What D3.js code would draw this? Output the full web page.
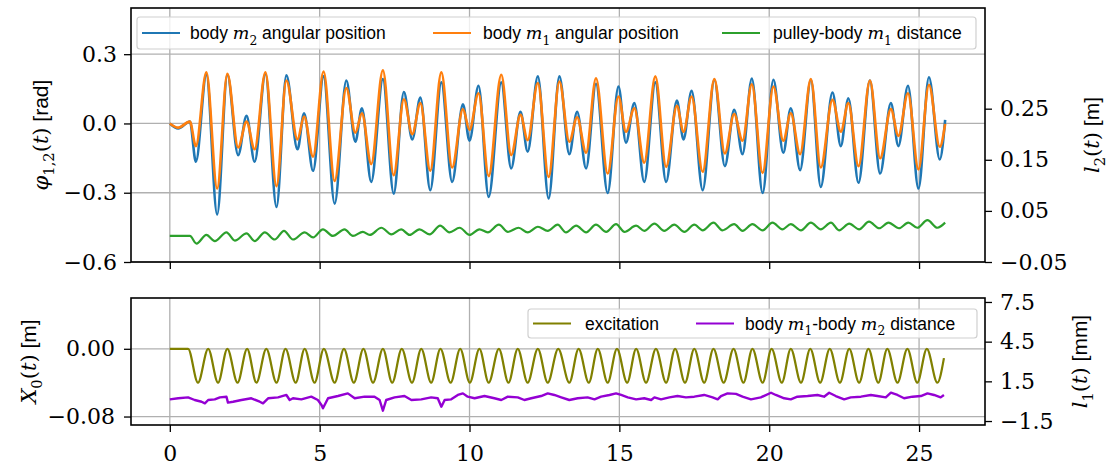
<!DOCTYPE html>
<meta charset="utf-8">
<style>
  body { margin: 0; background: #fff; }
  .tick text { font-family: "DejaVu Serif", serif; font-size: 22px; fill: #000; }
  .tick line { stroke: #000; stroke-width: 1.3; }
  .domain { display: none; }
  .grid line { stroke: #b0b0b0; stroke-width: 1.3; }
  .sf { font-family: "Liberation Sans", sans-serif; }
  .mi { font-family: "DejaVu Serif", serif; font-style: italic; }
  .rm { font-family: "DejaVu Serif", serif; }
</style>
<script src="https://d3js.org/d3.v7.min.js"></script>
<div id="chart"></div>
<script>
// ---- data (time in s) ----
// top panel: angular positions (extrema), left axis [rad]
const phiT = [0, 0.28, 0.67, 0.87, 1.22, 1.58, 1.92, 2.28, 2.56, 2.83, 3.19, 3.56, 3.89, 4.26, 4.48, 4.78, 5.13, 5.5, 5.89, 6.19,
  6.41, 6.72, 7.11, 7.47, 7.81, 8.09, 8.36, 8.69, 9.06, 9.42, 9.78, 10.0, 10.3, 10.64, 11.06, 11.39, 11.7, 11.94, 12.28, 12.64,
  13.0, 13.33, 13.59, 13.89, 14.22, 14.61, 14.97, 15.22, 15.5, 15.83, 16.2, 16.56, 16.92, 17.14, 17.41, 17.78, 18.17, 18.52, 18.83, 19.11,
  19.42, 19.78, 20.14, 20.47, 20.72, 21.03, 21.39, 21.72, 22.11, 22.39, 22.64, 22.98, 23.36, 23.7, 24.06, 24.31, 24.63, 24.98, 25.33, 25.69, 25.87]
const phi2 = [0, -0.022, 0.008, -0.166, 0.211, -0.394, 0.211, -0.137, 0.033, -0.166, 0.215, -0.362, 0.208, -0.112, 0.044, -0.205, 0.204, -0.347, 0.186, -0.079,
  0.066, -0.253, 0.192, -0.304, 0.136, -0.069, 0.112, -0.289, 0.178, -0.253, 0.083, -0.075, 0.163, -0.318, 0.178, -0.195, 0.051, -0.122, 0.204, -0.325,
  0.204, -0.133, 0.051, -0.195, 0.172, -0.301, 0.16, -0.083, 0.088, -0.253, 0.178, -0.253, 0.099, -0.069, 0.141, -0.289, 0.189, -0.185, 0.059, -0.133,
  0.194, -0.301, 0.189, -0.127, 0.066, -0.202, 0.189, -0.275, 0.134, -0.098, 0.109, -0.257, 0.186, -0.217, 0.088, -0.098, 0.163, -0.282, 0.2, -0.156, 0.015]
const phi1 = [0, -0.018, 0.008, -0.098, 0.221, -0.282, 0.215, -0.104, 0.008, -0.112, 0.221, -0.272, 0.186, -0.069, 0.03, -0.144, 0.225, -0.249, 0.153, -0.04,
  0.044, -0.176, 0.23, -0.224, 0.105, -0.046, 0.088, -0.205, 0.221, -0.191, 0.062, -0.028, 0.131, -0.228, 0.211, -0.137, 0.037, -0.072, 0.175, -0.232,
  0.182, -0.079, 0.027, -0.127, 0.196, -0.217, 0.117, -0.036, 0.066, -0.17, 0.204, -0.188, 0.076, -0.036, 0.117, -0.209, 0.192, -0.13, 0.041, -0.075,
  0.17, -0.214, 0.16, -0.075, 0.044, -0.133, 0.192, -0.191, 0.102, -0.036, 0.088, -0.185, 0.186, -0.151, 0.062, -0.054, 0.131, -0.199, 0.167, -0.101, -0.002]

// top panel: pulley-body m1 distance, right axis [m]
const l2T = [0, 0.67, 0.89, 1.22, 1.5, 1.89, 2.17, 2.56, 2.83, 3.17, 3.5, 3.81, 4.11, 4.5, 4.78, 5.11, 5.44, 5.83, 6.11, 6.44,
  6.67, 7.06, 7.39, 7.72, 8.0, 8.33, 8.67, 9.02, 9.33, 9.67, 10.0, 10.33, 10.61, 10.98, 11.28, 11.64, 11.94, 12.28, 12.61, 12.94,
  13.22, 13.56, 13.89, 14.22, 14.56, 14.89, 15.17, 15.56, 15.83, 16.17, 16.5, 16.83, 17.17, 17.5, 17.78, 18.14, 18.44, 18.83, 19.11, 19.44,
  19.78, 20.11, 20.44, 20.72, 21.06, 21.39, 21.72, 22.06, 22.33, 22.67, 23.0, 23.33, 23.67, 23.98, 24.33, 24.64, 24.94, 25.28, 25.61, 25.87]
const l2V = [0.001, 0.001, -0.014, 0.003, -0.009, 0.008, -0.008, 0.006, -0.009, 0.008, -0.006, 0.011, -0.006, 0.008, -0.002, 0.014, 0.001, 0.014, 0.001, 0.009,
  0.003, 0.017, 0.004, 0.014, 0.003, 0.014, 0.004, 0.021, 0.008, 0.017, 0.003, 0.014, 0.008, 0.023, 0.009, 0.017, 0.008, 0.019, 0.011, 0.023,
  0.008, 0.021, 0.008, 0.023, 0.009, 0.024, 0.009, 0.021, 0.011, 0.025, 0.011, 0.023, 0.009, 0.023, 0.012, 0.027, 0.012, 0.024, 0.011, 0.024,
  0.012, 0.027, 0.014, 0.024, 0.012, 0.027, 0.014, 0.027, 0.012, 0.025, 0.014, 0.029, 0.016, 0.027, 0.016, 0.027, 0.017, 0.032, 0.017, 0.027]

// bottom panel: excitation X0, left axis [m]
const excT = [0, 0.61, 0.94, 1.28, 1.61, 1.92, 2.26, 2.58, 2.89, 3.22, 3.56, 3.86, 4.2, 4.5, 4.83, 5.14, 5.5, 5.81, 6.14, 6.46,
  6.78, 7.11, 7.42, 7.74, 8.08, 8.39, 8.72, 9.03, 9.37, 9.69, 10.01, 10.33, 10.64, 10.98, 11.3, 11.61, 11.94, 12.28, 12.61, 12.96,
  13.33, 13.64, 13.98, 14.28, 14.61, 14.92, 15.26, 15.56, 15.89, 16.22, 16.56, 16.86, 17.19, 17.5, 17.83, 18.14, 18.48, 18.81, 19.14, 19.44,
  19.78, 20.08, 20.42, 20.72, 21.06, 21.37, 21.7, 22.02, 22.36, 22.67, 23.0, 23.31, 23.64, 23.94, 24.28, 24.61, 24.94, 25.26, 25.61, 25.83]
const excV = [0, 0, -0.04, 0, -0.04, 0, -0.04, 0, -0.04, 0, -0.04, 0, -0.04, 0, -0.04, 0, -0.04, 0, -0.04, 0,
  -0.04, 0, -0.04, 0, -0.04, 0, -0.04, 0, -0.04, 0, -0.04, 0, -0.04, 0, -0.04, 0, -0.04, 0, -0.04, 0,
  -0.04, 0, -0.04, 0, -0.04, 0, -0.04, 0, -0.04, 0, -0.04, 0, -0.04, 0, -0.04, 0, -0.04, 0, -0.04, 0,
  -0.04, 0, -0.04, 0, -0.04, 0, -0.04, 0, -0.04, 0, -0.04, 0, -0.04, 0, -0.04, 0, -0.04, 0, -0.04, -0.011]

// bottom panel: body m1-body m2 distance, right axis [mm]
const l1T = [0, 0.28, 0.61, 0.83, 1.06, 1.17, 1.28, 1.5, 1.67, 1.89, 1.94, 2.11, 2.39, 2.72, 3.0, 3.11, 3.28, 3.61, 3.89, 4.0,
  4.11, 4.39, 4.72, 4.94, 5.06, 5.11, 5.28, 5.61, 5.94, 6.17, 6.5, 6.83, 7.0, 7.11, 7.22, 7.5, 7.83, 8.06, 8.39, 8.72,
  8.94, 9.06, 9.17, 9.39, 9.61, 9.78, 9.94, 10.17, 10.5, 10.83, 11.06, 11.28, 11.61, 11.83, 12.06, 12.39, 12.61, 12.83,
  13.06, 13.33, 13.61, 13.94, 14.17, 14.39, 14.67, 14.89, 15.06, 15.28, 15.56, 15.83, 16.06, 16.17, 16.39, 16.67, 16.94, 17.22, 17.5, 17.83,
  18.11, 18.28, 18.39, 18.61, 18.89, 19.11, 19.39, 19.72, 20.06, 20.22, 20.5, 20.72, 20.94, 21.28, 21.61, 21.83, 22.0, 22.22, 22.5, 22.72,
  23.06, 23.39, 23.61, 23.89, 24.06, 24.28, 24.5, 24.78, 25.06, 25.28, 25.5, 25.72, 25.83]
const l1V = [0.14, 0.22, 0.29, 0.09, -0.04, -0.16, 0.09, 0.14, 0.29, 0.34, -0.11, -0.04, 0.09, 0.22, -0.04, -0.16, 0.22, 0.29, 0.47, 0.09,
  0.22, 0.14, 0.34, 0.09, -0.29, -0.54, 0.22, 0.39, 0.59, 0.22, 0.34, 0.34, 0.09, -0.72, 0.09, 0.29, 0.39, 0.09, 0.14, 0.29,
  0.22, -0.42, 0.09, 0.14, 0.47, 0.59, 0.34, 0.22, 0.39, 0.22, 0.09, 0.34, 0.29, 0.09, 0.22, 0.39, 0.59, 0.47,
  0.29, 0.09, 0.22, 0.29, 0.14, 0.34, 0.47, 0.59, 0.47, 0.29, 0.14, 0.22, 0.09, 0.29, 0.14, 0.29, 0.39, 0.29, 0.34, 0.47,
  0.29, 0.14, 0.39, 0.59, 0.55, 0.34, 0.14, 0.29, 0.64, 0.47, 0.22, 0.14, 0.34, 0.39, 0.47, 0.34, 0.64, 0.39, 0.14, 0.29,
  0.34, 0.47, 0.39, 0.29, 0.64, 0.47, 0.22, 0.34, 0.39, 0.59, 0.47, 0.29, 0.47]

// ticks
const xTicks = [0, 5, 10, 15, 20, 25]
const phiTicks = [-0.6, -0.3, 0.0, 0.3]
const l2Ticks = [-0.05, 0.05, 0.15, 0.25]
const x0Ticks = [-0.08, 0.0]
const l1Ticks = [-1.5, 1.5, 4.5, 7.5]

// ---- layout ----
const W = 1108, H = 465
const left = 131, right = 985
const top1 = 8, bot1 = 262
const top2 = 298, bot2 = 425

const svg = d3.select("#chart").append("svg")
  .attr("width", W).attr("height", H)
  .style("display", "block")

const x = d3.scaleLinear().domain([-1.295, 27.2]).range([left, right])
const yPhi = d3.scaleLinear().domain([-0.6, 0.5]).range([bot1, top1])
const yL2 = d3.scaleLinear().domain([-0.05, 0.447]).range([bot1, top1])
const yX0 = d3.scaleLinear().domain([-0.09, 0.06]).range([bot2, top2])
const yL1 = d3.scaleLinear().domain([-1.8, 7.8]).range([bot2, top2])

// grid
const grid = svg.append("g").attr("class", "grid")
;[[top1, bot1], [top2, bot2]].forEach(function(p) {
  grid.selectAll(null).data(xTicks).join("line")
    .attr("x1", d => x(d)).attr("x2", d => x(d))
    .attr("y1", p[0]).attr("y2", p[1])
})
grid.selectAll(null).data(phiTicks).join("line")
  .attr("x1", left).attr("x2", right)
  .attr("y1", d => yPhi(d)).attr("y2", d => yPhi(d))
grid.selectAll(null).data(x0Ticks).join("line")
  .attr("x1", left).attr("x2", right)
  .attr("y1", d => yX0(d)).attr("y2", d => yX0(d))

// lines
function drawLine(ts, vs, y, color, w, curve) {
  const pts = d3.zip(ts, vs)
  svg.append("path")
    .datum(pts)
    .attr("fill", "none")
    .attr("stroke", color)
    .attr("stroke-width", w)
    .attr("stroke-linejoin", "round")
    .attr("d", d3.line().x(d => x(d[0])).y(d => y(d[1])).curve(curve))
}
drawLine(phiT, phi2, yPhi, "#1f77b4", 2.6, d3.curveMonotoneX)
drawLine(phiT, phi1, yPhi, "#ff7f0e", 2.6, d3.curveMonotoneX)
drawLine(l2T, l2V, yL2, "#2ca02c", 2.2, d3.curveMonotoneX)
drawLine(excT, excV, yX0, "#808000", 2.2, d3.curveMonotoneX)
drawLine(l1T, l1V, yL1, "#9400d3", 2.4, d3.curveLinear)

// text with math parts: [string, class, isSubscript]
function richText(g, parts, size) {
  const t = g.append("text").style("font-size", size + "px").attr("fill", "#000")
  let shift = 0
  parts.forEach(function(p) {
    const s = t.append("tspan").attr("class", p[1]).text(p[0])
    const want = p[2] ? size * 0.3 : 0
    if (want !== shift) { s.attr("dy", want - shift); shift = want }
    if (p[2]) s.style("font-size", (size * 0.7) + "px")
  })
  return t
}

// legends
function legend(box, items, cy, size) {
  const g = svg.append("g")
  g.append("rect")
    .attr("x", box[0]).attr("y", box[1]).attr("width", box[2]).attr("height", box[3])
    .attr("rx", 3).attr("fill", "#fff").attr("fill-opacity", 0.8)
    .attr("stroke", "#d0d0d0").attr("stroke-width", 1.2)
  items.forEach(function(it) {
    g.append("line")
      .attr("x1", it.x).attr("x2", it.x + 38).attr("y1", cy).attr("y2", cy)
      .attr("stroke", it.color).attr("stroke-width", 2.2)
    richText(g, it.parts, size)
      .attr("x", it.tx).attr("y", cy + size * 0.36)
  })
}
legend([137, 17, 839, 32], [
  {x: 142, tx: 190, color: "#1f77b4", parts: [["body ", "sf"], ["m", "mi"], ["2", "rm", true], [" angular position", "sf"]]},
  {x: 433, tx: 483, color: "#ff7f0e", parts: [["body ", "sf"], ["m", "mi"], ["1", "rm", true], [" angular position", "sf"]]},
  {x: 722, tx: 773, color: "#2ca02c", parts: [["pulley-body ", "sf"], ["m", "mi"], ["1", "rm", true], [" distance", "sf"]]}
], 33, 17.5)
legend([528, 309, 449, 29], [
  {x: 533, tx: 585, color: "#808000", parts: [["excitation", "sf"]]},
  {x: 696, tx: 745, color: "#9400d3", parts: [["body ", "sf"], ["m", "mi"], ["1", "rm", true], ["-body ", "sf"], ["m", "mi"], ["2", "rm", true], [" distance", "sf"]]}
], 323.5, 17.5)

// spines
;[[top1, bot1], [top2, bot2]].forEach(function(p) {
  svg.append("rect")
    .attr("x", left).attr("y", p[0]).attr("width", right - left).attr("height", p[1] - p[0])
    .attr("fill", "none").attr("stroke", "#000").attr("stroke-width", 1.6)
})

// axes
svg.append("g").attr("transform", `translate(0,${bot1})`)
  .call(d3.axisBottom(x).tickValues(xTicks).tickSize(7).tickFormat(""))
svg.append("g").attr("transform", `translate(0,${bot2})`)
  .call(d3.axisBottom(x).tickValues(xTicks).tickSize(7).tickPadding(13).tickFormat(d3.format("d")))
svg.append("g").attr("transform", `translate(${left},0)`)
  .call(d3.axisLeft(yPhi).tickValues(phiTicks).tickSize(7).tickPadding(7).tickFormat(d3.format(".1f")))
svg.append("g").attr("transform", `translate(${right},0)`)
  .call(d3.axisRight(yL2).tickValues(l2Ticks).tickSize(7).tickPadding(8).tickFormat(d3.format(".2f")))
svg.append("g").attr("transform", `translate(${left},0)`)
  .call(d3.axisLeft(yX0).tickValues(x0Ticks).tickSize(7).tickPadding(9).tickFormat(d3.format(".2f")))
svg.append("g").attr("transform", `translate(${right},0)`)
  .call(d3.axisRight(yL1).tickValues(l1Ticks).tickSize(7).tickPadding(8).tickFormat(d3.format(".1f")))

// axis labels
function axisLabel(px, py, parts) {
  richText(svg.append("g").attr("transform", `translate(${px},${py}) rotate(-90)`), parts, 21)
    .attr("text-anchor", "middle")
}
axisLabel(48, (top1 + bot1) / 2, [["\u03C6", "mi"], ["1,2", "rm", true], ["(", "rm"], ["t", "mi"], [")", "rm"], [" [rad]", "sf"]])
axisLabel(1099, (top1 + bot1) / 2, [["l", "mi"], ["2", "rm", true], ["(", "rm"], ["t", "mi"], [")", "rm"], [" [m]", "sf"]])
axisLabel(36, (top2 + bot2) / 2, [["X", "mi"], ["0", "rm", true], ["(", "rm"], ["t", "mi"], [")", "rm"], [" [m]", "sf"]])
axisLabel(1087, (top2 + bot2) / 2, [["l", "mi"], ["1", "rm", true], ["(", "rm"], ["t", "mi"], [")", "rm"], [" [mm]", "sf"]])
</script>
